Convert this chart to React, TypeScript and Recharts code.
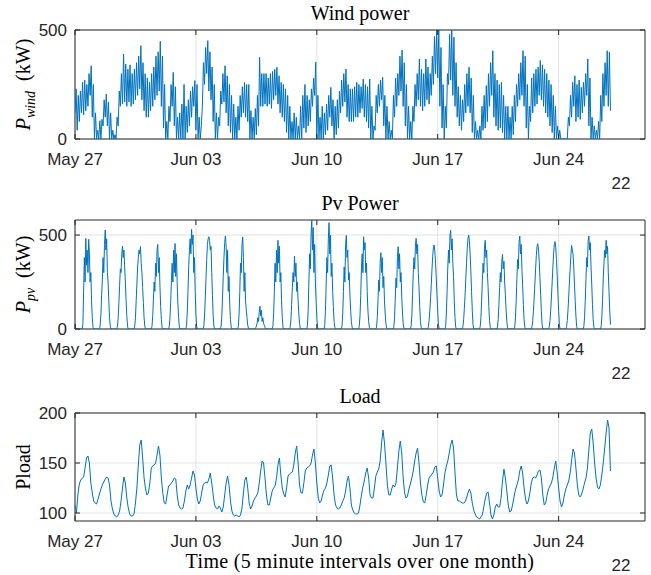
import React from 'react';
import { LineChart, Line, XAxis, YAxis, CartesianGrid, ReferenceArea } from 'recharts';

// x axis: days since May 27 00:00
const dayTicks = [0, 7, 14, 21, 28];
const dayTickLabels = ['May 27', 'Jun 03', 'Jun 10', 'Jun 17', 'Jun 24'];
const dayDomain = [0, 33];

// wind power (kW): lower and upper edge of the noisy trace in each 3-hour slot, one row per day
const windLowByDay = [
  [120, 40, 80, 120, 110, 130, 150, 200],
  [100, 0, 0, 0, 0, 60, 100, 60],
  [0, 0, 0, 0, 60, 150, 160, 170],
  [150, 170, 150, 160, 180, 200, 230, 180],
  [130, 100, 100, 130, 150, 180, 200, 220],
  [150, 50, 0, 0, 80, 150, 60, 0],
  [0, 0, 0, 0, 30, 60, 100, 150],
  [40, 0, 0, 150, 250, 300, 220, 180],
  [80, 0, 0, 60, 160, 170, 120, 60],
  [30, 0, 0, 0, 40, 100, 120, 100],
  [80, 0, 0, 0, 20, 60, 150, 150],
  [160, 150, 160, 140, 180, 200, 160, 120],
  [100, 80, 30, 0, 0, 0, 0, 0],
  [0, 0, 50, 30, 60, 80, 150, 200],
  [0, 0, 0, 0, 20, 40, 100, 60],
  [0, 20, 50, 120, 150, 170, 100, 80],
  [80, 80, 100, 100, 120, 140, 100, 80],
  [50, 0, 0, 40, 120, 150, 180, 60],
  [0, 0, 0, 0, 100, 150, 200, 220],
  [150, 60, 0, 0, 0, 80, 150, 180],
  [150, 130, 150, 180, 160, 200, 250, 300],
  [280, 150, 50, 0, 50, 250, 270, 200],
  [150, 100, 60, 40, 80, 120, 150, 120],
  [30, 0, 0, 0, 0, 40, 50, 80],
  [150, 200, 100, 60, 40, 50, 30, 0],
  [0, 0, 0, 20, 80, 150, 180, 200],
  [150, 50, 0, 80, 120, 150, 160, 200],
  [180, 150, 120, 100, 60, 30, 0, 0],
  [0, 0, 0, 0, 0, 60, 100, 150],
  [80, 100, 90, 120, 150, 200, 60, 0],
  [0, 0, 0, 0, 80, 150, 200, 150],
];
const windHighByDay = [
  [230, 200, 220, 260, 270, 250, 300, 336],
  [250, 120, 40, 84, 90, 180, 206, 170],
  [120, 40, 20, 100, 220, 300, 390, 344],
  [320, 340, 300, 320, 350, 380, 428, 350],
  [300, 280, 260, 300, 330, 380, 400, 448],
  [380, 250, 80, 150, 250, 306, 240, 100],
  [120, 160, 250, 150, 180, 220, 240, 268],
  [250, 100, 60, 350, 420, 451, 400, 330],
  [250, 120, 100, 220, 300, 336, 290, 250],
  [200, 160, 100, 150, 200, 240, 260, 250],
  [250, 130, 100, 140, 200, 375, 300, 300],
  [300, 280, 300, 310, 320, 329, 290, 260],
  [250, 230, 200, 150, 80, 120, 100, 60],
  [150, 200, 250, 200, 180, 230, 280, 352],
  [200, 100, 150, 120, 160, 200, 237, 180],
  [150, 180, 220, 270, 300, 321, 250, 230],
  [230, 240, 260, 250, 240, 275, 250, 240],
  [275, 150, 60, 200, 250, 270, 283, 200],
  [150, 80, 40, 200, 280, 300, 380, 408],
  [350, 250, 150, 80, 150, 250, 300, 367],
  [320, 300, 367, 330, 300, 380, 470, 500],
  [500, 420, 250, 150, 300, 480, 500, 467],
  [350, 240, 200, 180, 250, 300, 329, 280],
  [200, 80, 40, 60, 150, 200, 245, 300],
  [350, 405, 300, 270, 250, 260, 200, 150],
  [150, 100, 150, 200, 250, 300, 350, 405],
  [380, 250, 150, 280, 300, 320, 330, 360],
  [340, 320, 300, 270, 250, 200, 150, 60],
  [40, 0, 0, 0, 100, 200, 260, 290],
  [250, 270, 237, 260, 300, 367, 280, 100],
  [60, 40, 80, 200, 300, 350, 405, 398],
];
const windLast = 130;

// pv power (kW), hourly readings from 11:00 to 01:00 next day, one row per day
// (outside those hours the panel reads 0)
const pvFirstHours = [30, 5];
const pvByDay = [
  [30, 200, 380, 250, 482, 340, 420, 300, 477, 400, 250, 300, 150, 60, 10],
  [20, 80, 180, 260, 380, 300, 450, 527, 420, 480, 300, 250, 150, 60, 15],
  [15, 60, 140, 230, 320, 300, 400, 441, 380, 420, 330, 250, 150, 70, 15],
  [15, 60, 150, 240, 330, 380, 420, 400, 438, 350, 300, 220, 140, 60, 15],
  [15, 70, 160, 250, 200, 350, 280, 420, 450, 300, 380, 230, 120, 50, 10],
  [15, 60, 150, 260, 350, 250, 420, 300, 455, 280, 400, 240, 130, 60, 10],
  [20, 90, 200, 330, 420, 480, 400, 530, 450, 500, 300, 380, 200, 80, 15],
  [15, 70, 160, 270, 370, 450, 480, 491, 470, 420, 440, 300, 180, 70, 15],
  [15, 70, 170, 280, 380, 460, 495, 440, 300, 420, 200, 280, 130, 50, 10],
  [15, 80, 200, 350, 300, 450, 490, 380, 200, 300, 150, 100, 60, 20, 5],
  [5, 15, 30, 60, 40, 90, 121, 70, 100, 40, 60, 30, 20, 10, 0],
  [15, 80, 200, 350, 250, 420, 300, 472, 350, 440, 250, 300, 150, 60, 10],
  [10, 50, 130, 220, 300, 250, 388, 280, 350, 200, 250, 150, 80, 30, 5],
  [20, 100, 250, 400, 320, 500, 580, 420, 540, 300, 450, 250, 150, 60, 10],
  [20, 100, 240, 380, 300, 480, 566, 400, 500, 280, 350, 200, 120, 40, 10],
  [15, 80, 200, 330, 250, 450, 498, 380, 420, 260, 300, 180, 100, 40, 10],
  [15, 70, 180, 320, 400, 300, 491, 420, 460, 300, 350, 200, 100, 40, 10],
  [10, 60, 150, 260, 200, 350, 406, 300, 380, 220, 280, 150, 80, 30, 5],
  [10, 60, 160, 270, 220, 380, 438, 320, 400, 250, 300, 170, 90, 30, 5],
  [15, 70, 180, 300, 380, 320, 440, 482, 400, 450, 300, 220, 120, 40, 10],
  [12, 45, 95, 160, 235, 315, 385, 435, 447, 415, 350, 270, 180, 95, 25],
  [15, 80, 200, 330, 420, 350, 500, 525, 420, 480, 350, 280, 150, 60, 10],
  [12, 50, 110, 180, 265, 350, 430, 480, 500, 470, 400, 310, 200, 100, 25],
  [12, 60, 150, 260, 350, 300, 430, 472, 380, 420, 300, 220, 120, 45, 10],
  [10, 50, 130, 220, 300, 250, 360, 397, 320, 360, 250, 180, 100, 40, 8],
  [12, 60, 150, 270, 370, 320, 460, 495, 400, 450, 320, 230, 130, 50, 10],
  [12, 45, 95, 165, 240, 320, 390, 440, 454, 425, 360, 275, 185, 95, 25],
  [12, 45, 100, 170, 250, 330, 400, 450, 465, 435, 370, 285, 190, 100, 25],
  [12, 45, 100, 170, 250, 320, 390, 445, 420, 400, 330, 240, 150, 70, 15],
  [12, 60, 150, 270, 380, 330, 470, 495, 420, 460, 330, 240, 130, 50, 10],
  [12, 60, 150, 270, 350, 420, 380, 472, 400, 440, 300, 200, 100, 23],
];

// load, 2-hourly readings, one row per day
const loadByDay = [
  [108, 100, 118, 129, 133, 135, 136, 145, 155, 157, 150, 130],
  [120, 112, 110, 109, 114, 119, 124, 128, 131, 134, 136, 135],
  [128, 112, 104, 99, 97, 96, 98, 102, 112, 125, 136, 130],
  [115, 105, 99, 97, 97, 99, 110, 125, 148, 168, 173, 155],
  [135, 124, 118, 120, 130, 145, 147, 148, 150, 158, 167, 158],
  [135, 120, 110, 109, 118, 127, 128, 130, 132, 135, 134, 118],
  [108, 105, 104, 105, 112, 122, 128, 124, 128, 135, 142, 138],
  [125, 114, 109, 112, 120, 128, 130, 131, 130, 134, 140, 130],
  [118, 108, 105, 104, 107, 105, 101, 106, 118, 130, 137, 128],
  [112, 102, 98, 97, 98, 97, 96, 98, 105, 120, 133, 136],
  [125, 110, 104, 107, 112, 115, 117, 120, 130, 142, 152, 150],
  [135, 118, 108, 108, 115, 122, 125, 127, 135, 148, 155, 138],
  [125, 119, 116, 125, 137, 139, 140, 141, 148, 160, 167, 150],
  [128, 120, 120, 130, 142, 145, 146, 147, 150, 158, 164, 150],
  [130, 115, 110, 112, 118, 123, 125, 130, 138, 147, 148, 135],
  [118, 108, 105, 104, 105, 108, 112, 115, 122, 132, 137, 125],
  [108, 103, 100, 99, 99, 100, 108, 118, 126, 132, 140, 145],
  [135, 118, 115, 115, 125, 137, 141, 144, 152, 170, 183, 170],
  [150, 128, 118, 118, 124, 128, 126, 130, 145, 162, 172, 160],
  [135, 120, 115, 117, 124, 129, 135, 142, 152, 160, 165, 150],
  [130, 118, 111, 110, 118, 128, 135, 137, 139, 141, 146, 147],
  [135, 122, 116, 118, 128, 140, 147, 152, 160, 168, 173, 165],
  [140, 118, 112, 112, 111, 110, 110, 111, 115, 120, 124, 120],
  [110, 103, 99, 96, 95, 94, 96, 98, 106, 114, 120, 121],
  [110, 98, 94, 98, 106, 109, 106, 106, 115, 132, 144, 135],
  [122, 108, 101, 102, 108, 116, 123, 128, 133, 142, 147, 140],
  [125, 114, 109, 112, 120, 130, 135, 136, 135, 138, 142, 143],
  [135, 118, 108, 110, 118, 124, 127, 130, 136, 145, 152, 140],
  [125, 112, 106, 110, 118, 124, 128, 132, 140, 152, 164, 160],
  [145, 128, 118, 116, 119, 124, 130, 135, 145, 163, 180, 184],
  [170, 150, 135, 126, 124, 128, 138, 150, 165, 180, 193, 185, 142],
];

// low/high edges alternate, so the dense 5-minute trace shows as a filled band
const windData = windLowByDay.flatMap((row, d) =>
  row.flatMap((lo, k) => [
    { t: d + k / 8, v: lo },
    { t: d + k / 8 + 1 / 16, v: windHighByDay[d][k] },
  ])
);
windData.push({ t: windLowByDay.length, v: windLast });

const loadData = loadByDay.flatMap((row, d) => row.map((v, k) => ({ t: d + k / 12, v })));

const pvHourly: number[] = new Array(31 * 24 + 1).fill(0);
pvFirstHours.forEach((v, h) => { pvHourly[h] = v; });
pvByDay.forEach((row, d) => row.forEach((v, k) => { pvHourly[d * 24 + 11 + k] = v; }));
const pvData = pvHourly.map((v, h) => ({ t: h / 24, v }));

const W = 651;
const PLOT_LEFT = 75;
const PLOT_RIGHT = 645;
const M_TOP = 30;
const AXIS_H = 30;
const boxColor = '#262626';
const gridColor = '#e2e2e2';
const lineColor = '#0072BD';
const sansFont = '"Liberation Sans", Arial, Helvetica, sans-serif';
const serifFont = '"Liberation Serif", "Times New Roman", serif';

const XTick = ({ x, y, payload, plotH }: any) => {
  const i = dayTicks.indexOf(payload.value);
  return (
    <g>
      <line x1={x} x2={x} y1={y} y2={y - 5} stroke={boxColor} />
      <line x1={x} x2={x} y1={y - plotH} y2={y - plotH + 5} stroke={boxColor} />
      <text x={x} y={y + 26} textAnchor="middle" fill={boxColor} fontSize={17} fontFamily={sansFont}>
        {dayTickLabels[i]}
      </text>
    </g>
  );
};

const YTick = ({ x, y, payload }: any) => (
  <g>
    <line x1={PLOT_LEFT} x2={PLOT_LEFT + 5} y1={y} y2={y} stroke={boxColor} />
    <line x1={PLOT_RIGHT} x2={PLOT_RIGHT - 5} y1={y} y2={y} stroke={boxColor} />
    <text x={x} y={y + 6} textAnchor="end" fill={boxColor} fontSize={17} fontFamily={sansFont}>
      {payload.value}
    </text>
  </g>
);

type PanelProps = {
  top: number;
  plotH: number;
  data: { t: number; v: number }[];
  domain: number[];
  yTicks: number[];
  title: string;
  yLabel: React.ReactNode;
  xLabel?: string;
};

function Panel({ top, plotH, data, domain, yTicks, title, yLabel, xLabel }: PanelProps) {
  const H = M_TOP + plotH + 60;
  const bottom = M_TOP + plotH;
  return (
    <div style={{ position: 'absolute', left: 0, top, width: W, height: H }}>
      <LineChart
        width={W}
        height={H}
        data={data}
        margin={{ top: M_TOP, right: W - PLOT_RIGHT, bottom: H - bottom - AXIS_H, left: 0 }}
      >
        <CartesianGrid stroke={gridColor} syncWithTicks />
        <XAxis
          dataKey="t"
          type="number"
          domain={dayDomain}
          ticks={dayTicks}
          interval={0}
          allowDataOverflow
          axisLine={false}
          tickLine={false}
          tickSize={0}
          tickMargin={0}
          height={AXIS_H}
          tick={(p: any) => <XTick {...p} plotH={plotH} />}
        />
        <YAxis
          type="number"
          domain={domain}
          ticks={yTicks}
          interval={0}
          allowDataOverflow
          axisLine={false}
          tickLine={false}
          tickSize={0}
          tickMargin={8}
          width={PLOT_LEFT}
          tick={(p: any) => <YTick {...p} />}
        />
        <Line
          type="linear"
          dataKey="v"
          stroke={lineColor}
          strokeWidth={1}
          dot={false}
          isAnimationActive={false}
        />
        <ReferenceArea
          x1={dayDomain[0]}
          x2={dayDomain[1]}
          y1={domain[0]}
          y2={domain[1]}
          fill="none"
          stroke={boxColor}
          strokeWidth={1}
          ifOverflow="visible"
        />
      </LineChart>
      <svg
        width={W}
        height={H}
        style={{ position: 'absolute', left: 0, top: 0, pointerEvents: 'none' }}
      >
        <text x={(PLOT_LEFT + PLOT_RIGHT) / 2} y={M_TOP - 10} textAnchor="middle" fontSize={20} fontFamily={serifFont} fill="#000">
          {title}
        </text>
        <text
          transform={`translate(30, ${M_TOP + plotH / 2}) rotate(-90)`}
          textAnchor="middle"
          fontSize={20}
          fontFamily={serifFont}
          fill="#000"
        >
          {yLabel}
        </text>
        <text x={621} y={bottom + 50} textAnchor="middle" fill={boxColor} fontSize={17} fontFamily={sansFont}>
          22
        </text>
        {xLabel && (
          <text
            x={(PLOT_LEFT + PLOT_RIGHT) / 2}
            y={bottom + 47}
            textAnchor="middle"
            fontSize={20}
            letterSpacing={0.35}
            fontFamily={serifFont}
            fill="#000"
          >
            {xLabel}
          </text>
        )}
      </svg>
    </div>
  );
}

export default function App() {
  return (
    <div style={{ position: 'absolute', left: 0, top: 0, width: W, height: 575, background: '#fff', overflow: 'hidden' }}>
      <Panel
        top={0}
        plotH={109}
        data={windData}
        domain={[0, 500]}
        yTicks={[0, 500]}
        title="Wind power"
        yLabel={
          <>
            <tspan fontStyle="italic">P</tspan>
            <tspan fontStyle="italic" fontSize={14} dy={5}>wind</tspan>
            <tspan dy={-5}>{'\u00a0\u00a0(kW)'}</tspan>
          </>
        }
      />
      <Panel
        top={190}
        plotH={109}
        data={pvData}
        domain={[0, 580]}
        yTicks={[0, 500]}
        title="Pv Power"
        yLabel={
          <>
            <tspan fontStyle="italic">P</tspan>
            <tspan fontStyle="italic" fontSize={14} dy={5}>pv</tspan>
            <tspan dy={-5}>{'\u00a0\u00a0(kW)'}</tspan>
          </>
        }
      />
      <Panel
        top={383}
        plotH={108}
        data={loadData}
        domain={[92, 200]}
        yTicks={[100, 150, 200]}
        title="Load"
        yLabel="Pload"
        xLabel="Time (5 minute intervals over one month)"
      />
    </div>
  );
}
